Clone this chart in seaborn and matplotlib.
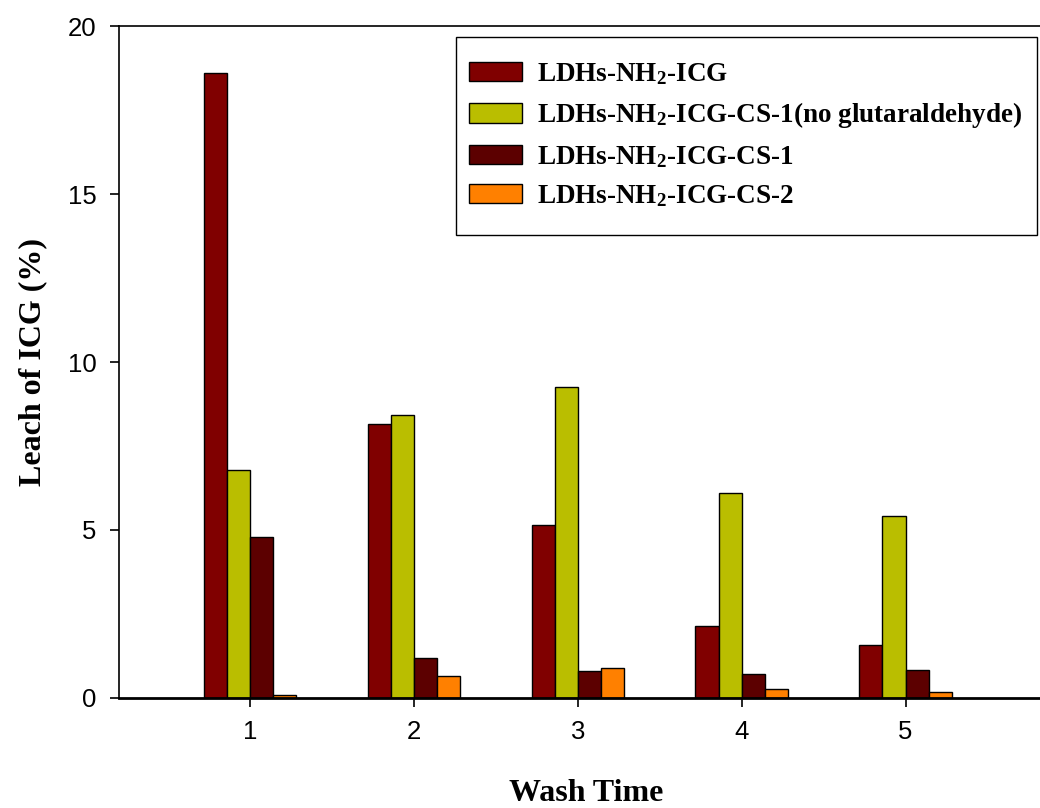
import matplotlib
matplotlib.use("Agg")
import matplotlib.pyplot as plt
from matplotlib.patches import Rectangle
import seaborn as sns
import pandas as pd

wash_times = ["1", "2", "3", "4", "5"]
series_names = [
    r"LDHs-NH$_\mathrm{2}$-ICG",
    r"LDHs-NH$_\mathrm{2}$-ICG-CS-1(no glutaraldehyde)",
    r"LDHs-NH$_\mathrm{2}$-ICG-CS-1",
    r"LDHs-NH$_\mathrm{2}$-ICG-CS-2",
]
ldhs_icg = [18.6, 8.14, 5.16, 2.15, 1.58]
cs1_no_glut = [6.8, 8.42, 9.25, 6.1, 5.42]
cs1 = [4.78, 1.2, 0.8, 0.7, 0.82]
cs2 = [0.1, 0.65, 0.88, 0.28, 0.18]
colors = ["#800000", "#BABE00", "#5C0000", "#FF8000"]

rows = []
for name, vals in zip(series_names, [ldhs_icg, cs1_no_glut, cs1, cs2]):
    for t, v in zip(wash_times, vals):
        rows.append({"Wash Time": t, "Series": name, "Leach": v})
df = pd.DataFrame(rows)

sns.set_style("ticks")
plt.rcParams["text.color"] = "black"
plt.rcParams["axes.labelcolor"] = "black"
plt.rcParams["xtick.color"] = "black"
plt.rcParams["ytick.color"] = "black"
plt.rcParams["mathtext.fontset"] = "custom"
plt.rcParams["mathtext.rm"] = "Liberation Serif:bold"
plt.rcParams["mathtext.it"] = "Liberation Serif:bold"
plt.rcParams["mathtext.bf"] = "Liberation Serif:bold"

fig = plt.figure(figsize=(10.4, 8.08), dpi=100)
ax = fig.add_axes([0.11442, 0.13614, 0.89808, 0.83168])

sns.barplot(data=df, x="Wash Time", y="Leach", hue="Series", order=wash_times,
            hue_order=series_names, palette=colors, width=0.565, dodge=True,
            edgecolor="black", linewidth=1.0, saturation=1, ax=ax, errorbar=None)

ax.set_xlim(-0.80, 4.90)
ax.set_ylim(0, 20)
ax.set_yticks([0, 5, 10, 15, 20])
ax.spines["right"].set_visible(False)
for s in ["left", "top", "bottom"]:
    ax.spines[s].set_linewidth(1.2)
    ax.spines[s].set_color("black")
ax.spines["bottom"].set_linewidth(2.0)
ax.tick_params(axis="both", direction="out", length=6.8, width=1.2,
               labelsize=18.5, colors="black", labelcolor="black")
for lab in ax.get_xticklabels() + ax.get_yticklabels():
    lab.set_fontfamily("Liberation Sans")
ax.tick_params(axis="x", pad=9)
ax.tick_params(axis="y", pad=9.4)

ax.set_xlabel("Wash Time", fontfamily="Liberation Serif", fontweight="bold",
              fontsize=23, labelpad=25, color="black")
ax.set_ylabel("Leach of ICG (%)", fontfamily="Liberation Serif", fontweight="bold",
              fontsize=23, labelpad=15, color="black")

leg = ax.legend(loc="upper right", bbox_to_anchor=(0.9829, 0.9702),
                prop={"family": "Liberation Serif", "weight": "bold", "size": 19.5},
                frameon=False,
                handlelength=1.95, handleheight=0.72, borderpad=0.55,
                labelspacing=0.5, handletextpad=0.55, borderaxespad=0)
for t in leg.get_texts():
    t.set_color("black")

fig.canvas.draw()
bb = leg.get_window_extent(fig.canvas.get_renderer())
extra = 10
inv = fig.transFigure.inverted()
(x0, y0) = inv.transform((bb.x0 + 2, bb.y0 - extra - 1))
(x1, y1) = inv.transform((bb.x1, bb.y1 + extra - 1))
fig.add_artist(Rectangle((x0, y0), x1 - x0, y1 - y0, transform=fig.transFigure,
                         fill=False, edgecolor="black", linewidth=1.0))

fig.savefig("out.png", dpi=100)
